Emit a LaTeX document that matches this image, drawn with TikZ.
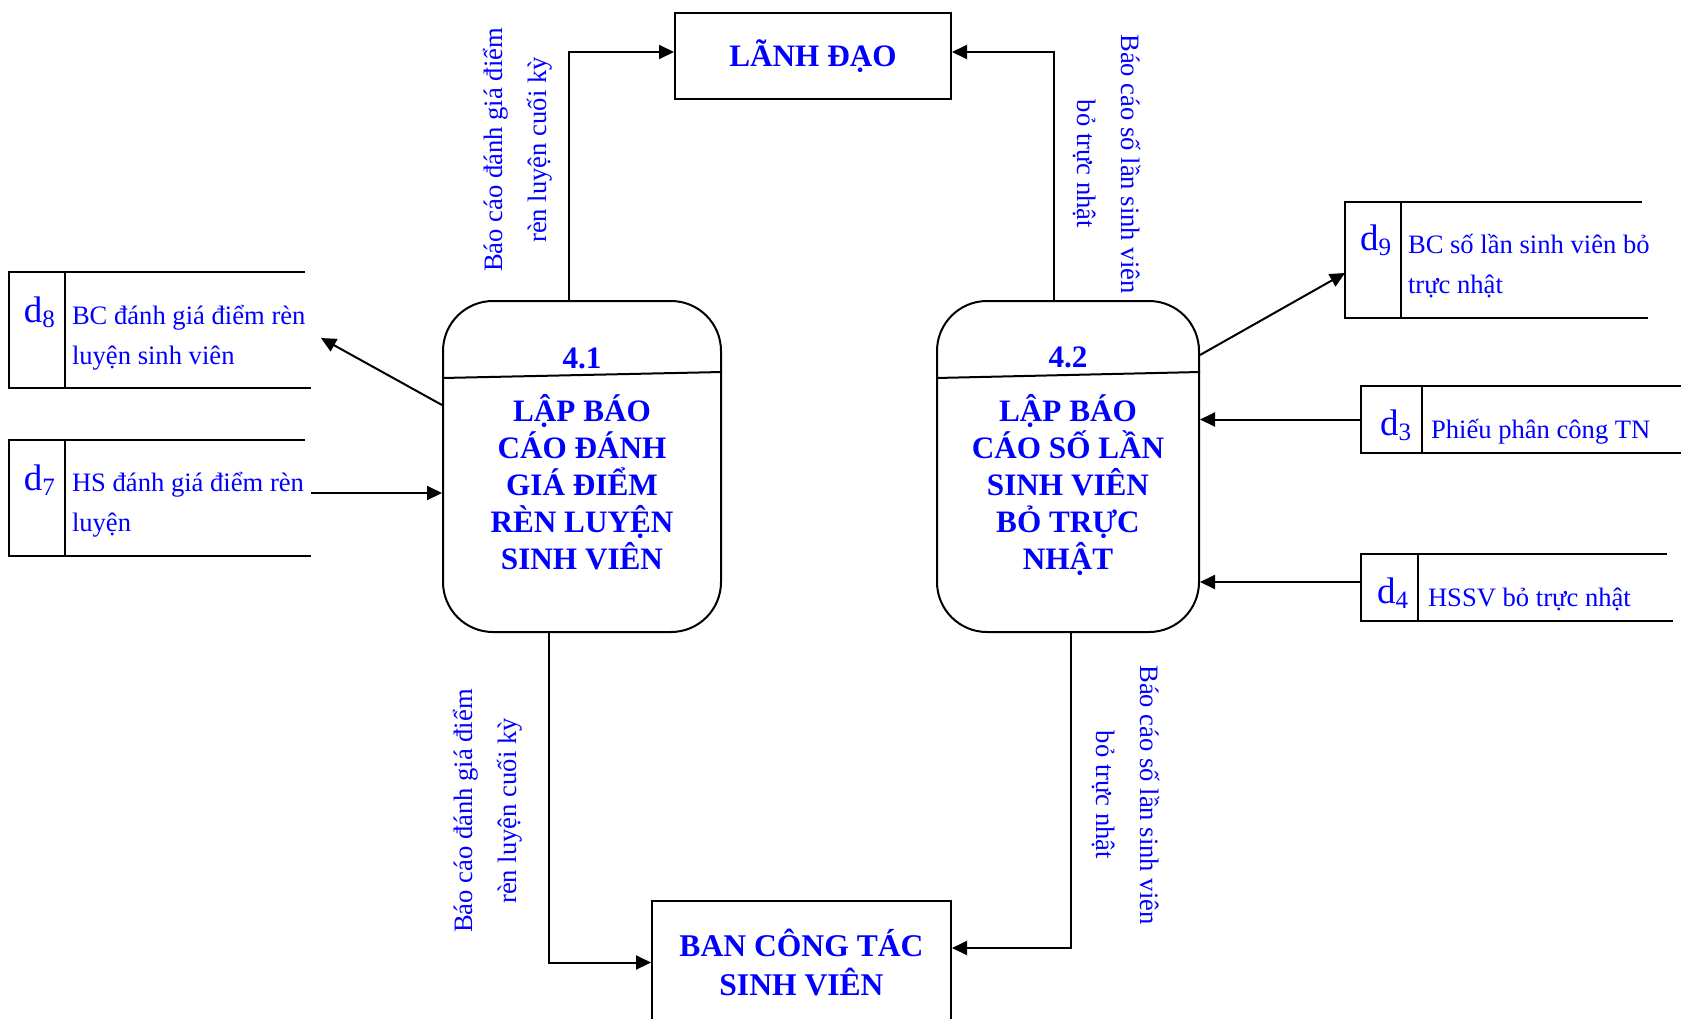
\documentclass[tikz,border=0pt]{standalone}
\usepackage{fontspec}
\setmainfont{Liberation Serif}
\usetikzlibrary{arrows.meta,calc}
\definecolor{ink}{RGB}{0,0,255}
% store identifier: large "d" with a lowered index
\newcommand\dsub[1]{{\fontsize{18.5}{18.5}\selectfont d}\raisebox{-2.5pt}{\fontsize{12.5}{12.5}\selectfont #1}}
\begin{document}
\begin{tikzpicture}[x=0.5pt,y=-0.5pt,
  line width=1pt,
  flow/.style={draw=black, line width=1pt, -{Triangle[length=7.5pt,width=7pt]}},
  entity/.style={draw, line width=1pt, inner sep=0pt, text=ink,
    font=\fontsize{15.6}{18.5}\selectfont\bfseries, align=center},
  procbox/.style={draw, line width=1pt, rounded corners=25pt, inner sep=0pt, minimum height=165.5pt},
  proctext/.style={text=ink, font=\fontsize{15.6}{18.5}\selectfont\bfseries, align=center, inner sep=0pt},
  flowlabel/.style={text=ink, font=\fontsize{13.3}{22}\selectfont, align=center, inner sep=0pt},
  storeframe/.style={inner sep=0pt},
  storeid/.style={text=ink, inner sep=0pt, anchor=base west},
  storetext/.style={text=ink, font=\fontsize{13.3}{20}\selectfont, align=left, inner sep=0pt},
]
\useasboundingbox (0,0) rectangle (1681,1018);
\fill[white] (0,0) rectangle (1681,1018);

% external entities
\node[entity, minimum width=138pt, minimum height=43pt] (lanhdao) at (813,56) {LÃNH ĐẠO};
\node[entity, minimum width=149.5pt, minimum height=61.5pt,
      font=\fontsize{15.8}{19.5}\selectfont\bfseries] (ban) at (801.5,962.5) {BAN CÔNG TÁC\\SINH VIÊN};

% processes
\node[procbox, minimum width=139pt] (p41) at (582,466.5) {};
\node[procbox, minimum width=131pt] (p42) at (1068,466.5) {};
\draw (p41.west |- 0,378) -- (p41.east |- 0,372);
\draw (p42.west |- 0,378) -- (p42.east |- 0,372);
\node[proctext, anchor=base] (p41num) at (582,368) {4.1};
\node[proctext, anchor=base] (p42num) at (1068,367) {4.2};
\node[proctext] (p41name) at (582,482) {LẬP BÁO\\CÁO ĐÁNH\\GIÁ ĐIỂM\\RÈN LUYỆN\\SINH VIÊN};
\node[proctext] (p42name) at (1068,485) {LẬP BÁO\\CÁO SỐ LẦN\\SINH VIÊN\\BỎ TRỰC\\NHẬT};

% data stores
\node[storeframe, minimum width=150pt, minimum height=57pt] (s8) at (160,330) {};
\node[storeframe, minimum width=150pt, minimum height=57pt] (s7) at (160,498) {};
\node[storeframe, minimum width=150.5pt, minimum height=57pt] (s9) at (1496.5,260) {};
\node[storeframe, minimum width=164pt, minimum height=32.5pt] (s3) at (1526,419.5) {};
\node[storeframe, minimum width=155pt, minimum height=32.5pt] (s4) at (1517,587.5) {};
\foreach \s/\d in {s8/28pt, s7/28pt, s9/28pt, s3/30.5pt, s4/28.5pt}{
  \draw ([xshift=-3pt]\s.north east) -- (\s.north west) -- (\s.south west) -- (\s.south east);
  \draw ([xshift=\d]\s.north west) -- ([xshift=\d]\s.south west);
}
\node[storeid] (i8) at (23,322) {\dsub{8}};
\node[storeid] (i7) at (23,490) {\dsub{7}};
\node[storeid] (i9) at (1359,250) {\dsub{9}};
\node[storeid] (i3) at (1379,435) {\dsub{3}};
\node[storeid] (i4) at (1376,603) {\dsub{4}};
\node[storetext, anchor=west] (t8) at (71,338) {BC đánh giá điểm rèn\\luyện sinh viên};
\node[storetext, anchor=west] (t7) at (71,505) {HS đánh giá điểm rèn\\luyện};
\node[storetext, anchor=west] (t9) at (1407,266) {BC số lần sinh viên bỏ\\trực nhật};
\node[storetext, anchor=base west] (t3) at (1430,438) {Phiếu phân công TN};
\node[storetext, anchor=base west] (t4) at (1427,606) {HSSV bỏ trực nhật};

% data flows
\draw[flow] ([xshift=-6.5pt]p41.north) |- ([yshift=2pt]lanhdao.west);
\draw[flow] ([xshift=-7pt]p42.north) |- ([yshift=2pt]lanhdao.east);
\draw[flow] ([xshift=-16.5pt]p41.south) |- (ban.west);
\draw[flow] ([xshift=1.5pt]p42.south) |- ([yshift=7.25pt]ban.east);
\draw[flow] ([yshift=30.75pt]p41.west) -- ([xshift=5pt,yshift=-4pt]s8.east);
\coordinate (d7out) at ([yshift=2.5pt]s7.east);
\draw[flow] (d7out) -- (d7out -| p41.west);
\draw[flow] ([yshift=55.75pt]p42.east) -- ([yshift=-6.5pt]s9.west);
\draw[flow] (s3.west) -- (s3.west -| p42.east);
\coordinate (d4out) at ([yshift=2.75pt]s4.west);
\draw[flow] (d4out) -- (d4out -| p42.east);

% flow labels
\node[flowlabel, rotate=90] (f1) at (518,150) {Báo cáo đánh giá điểm\\rèn luyện cuối kỳ};
\node[flowlabel, rotate=-90] (f2) at (1107,164) {Báo cáo số lần sinh viên\\bỏ trực nhật};
\node[flowlabel, rotate=90] (f3) at (488,811) {Báo cáo đánh giá điểm\\rèn luyện cuối kỳ};
\node[flowlabel, rotate=-90] (f4) at (1126,795) {Báo cáo số lần sinh viên\\bỏ trực nhật};
\end{tikzpicture}
\end{document}
